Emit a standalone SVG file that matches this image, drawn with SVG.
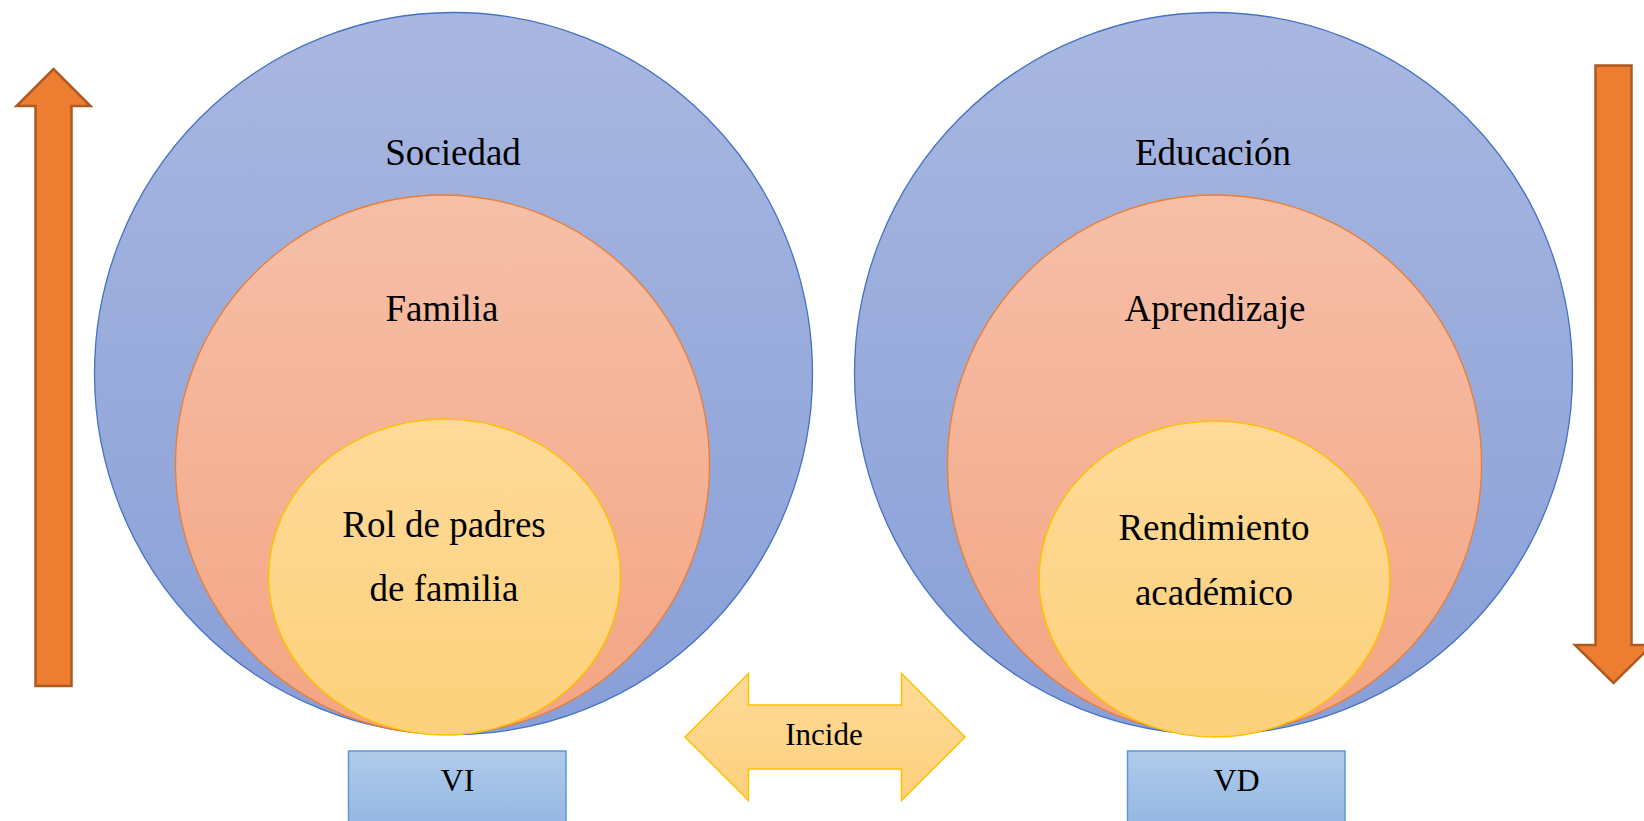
<svg xmlns="http://www.w3.org/2000/svg" width="1644" height="821" viewBox="0 0 1644 821">
<defs>
<linearGradient id="gBlue" x1="0" y1="0" x2="0" y2="1"><stop offset="0" stop-color="#a9b7e0"/><stop offset="1" stop-color="#889fd7"/></linearGradient>
<linearGradient id="gPeach" x1="0" y1="0" x2="0" y2="1"><stop offset="0" stop-color="#f6bfa8"/><stop offset="1" stop-color="#f3a583"/></linearGradient>
<linearGradient id="gYellow" x1="0" y1="0" x2="0" y2="1"><stop offset="0" stop-color="#feda99"/><stop offset="1" stop-color="#fdd17b"/></linearGradient>
<linearGradient id="gBox" x1="0" y1="0" x2="0" y2="1"><stop offset="0" stop-color="#b0cbea"/><stop offset="1" stop-color="#92b5e2"/></linearGradient>
<linearGradient id="gArrowY" x1="0" y1="0" x2="0" y2="1"><stop offset="0" stop-color="#fedb98"/><stop offset="1" stop-color="#fdd07c"/></linearGradient>
</defs>
<style>
.outer{fill:url(#gBlue);stroke:#4472c4;stroke-width:1.3}
.mid{fill:url(#gPeach);stroke:#ed7d31;stroke-width:1.3}
.inner{fill:url(#gYellow);stroke:#ffc000;stroke-width:1.5}
.box{fill:url(#gBox);stroke:#5b9bd5;stroke-width:1.5}
.orange{fill:#ed7d31;stroke:#ae5a21;stroke-width:2.5}
.dbl{fill:url(#gArrowY);stroke:#ffc000;stroke-width:1.5}
text{font-family:"Liberation Serif","Times New Roman",serif;fill:#000;text-anchor:middle}
.big{font-size:37px}
.small{font-size:31px}
</style>
<g id="arrow-up"><path class="orange" d="M35.5,686 L35.5,106 L16.5,106 L53.5,69 L90.5,106 L71.5,106 L71.5,686 Z"/></g>
<g id="arrow-down"><path class="orange" d="M1595.5,65.5 L1631.5,65.5 L1631.5,645 L1652,645 L1613.5,683 L1575,645 L1595.5,645 Z"/></g>
<g id="left-circles">
<ellipse class="outer" cx="453.5" cy="373.5" rx="359" ry="361"/>
<ellipse class="mid" cx="442.5" cy="464.5" rx="267" ry="269.5"/>
<ellipse class="inner" cx="444.5" cy="577" rx="176" ry="158"/>
<text class="big" x="453" y="165">Sociedad</text>
<text class="big" x="442" y="321">Familia</text>
<text class="big" x="444" y="537">Rol de padres</text>
<text class="big" x="444" y="601">de familia</text>
</g>
<g id="right-circles">
<ellipse class="outer" cx="1213.5" cy="373.5" rx="359" ry="361"/>
<ellipse class="mid" cx="1214.5" cy="464.5" rx="267" ry="269.5"/>
<ellipse class="inner" cx="1214.5" cy="579" rx="175.5" ry="158"/>
<text class="big" x="1213" y="165">Educación</text>
<text class="big" x="1215" y="321">Aprendizaje</text>
<text class="big" x="1214" y="540">Rendimiento</text>
<text class="big" x="1214" y="605">académico</text>
</g>
<g id="incide">
<path class="dbl" d="M685,737 L748.5,673.5 L748.5,705 L901.5,705 L901.5,673.5 L965,737 L901.5,800.5 L901.5,769 L748.5,769 L748.5,800.5 Z"/>
<text class="small" x="824" y="745">Incide</text>
</g>
<g id="vi">
<rect class="box" x="348.5" y="751" width="217.5" height="80"/>
<text class="small" x="457.5" y="791" style="font-size:32px">VI</text>
</g>
<g id="vd">
<rect class="box" x="1127.5" y="751" width="217.5" height="80"/>
<text class="small" x="1236.5" y="791" style="font-size:32px">VD</text>
</g>
</svg>
